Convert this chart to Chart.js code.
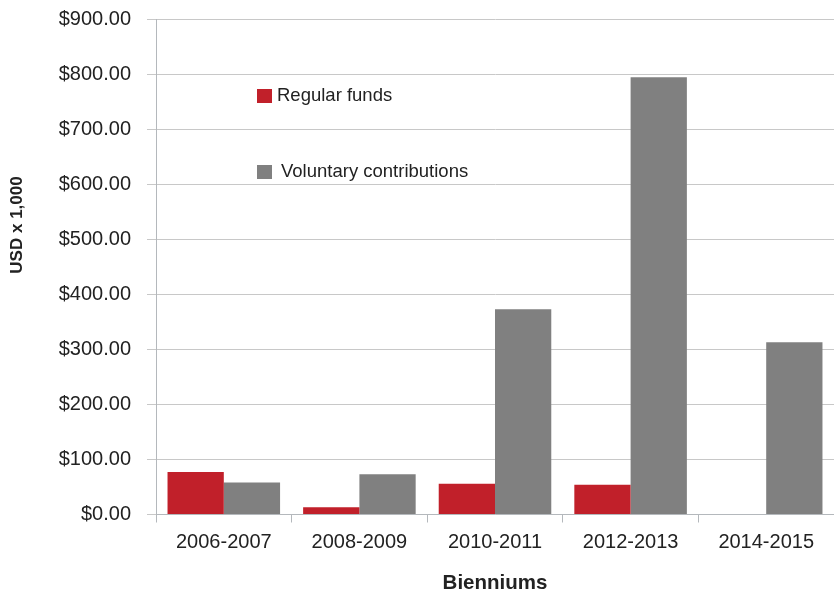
<!DOCTYPE html>
<html>
<head>
<meta charset="utf-8">
<script src="https://cdn.jsdelivr.net/npm/chart.js@4.4.1/dist/chart.umd.min.js"></script>
<style>
  html, body { margin: 0; padding: 0; background: #fff; }
  #wrap { width: 834px; height: 596px; }
</style>
</head>
<body>
<div id="wrap"><canvas id="myChart"></canvas></div>
<script>
const bienniums = ['2006-2007', '2008-2009', '2010-2011', '2012-2013', '2014-2015'];
const regularFunds = [77, 13, 56, 54, null];
const voluntaryContributions = [58, 73, 373, 794, 313];

const ctx = document.getElementById('myChart');

// legend boxes sit inside the plot, stacked with a wide gap;
// the y title is drawn here too since it sits above the axis middle
const innerLegend = {
    id: 'innerLegend',
    afterDraw(chart) {
        const c = chart.ctx;
        const area = chart.chartArea;
        const rows = [77, 153];
        c.save();
        c.font = '18.5px "Liberation Sans", Arial, sans-serif';
        c.textBaseline = 'middle';
        chart.data.datasets.forEach((ds, i) => {
            const x = area.left + 101;
            const y = area.top + rows[i];
            c.fillStyle = ds.backgroundColor;
            c.fillRect(x, y - 7, 15, 14);
            c.fillStyle = '#222';
            c.fillText(ds.label, x + 20 + i * 4, y);
        });

        c.translate(17, 225);
        c.rotate(-Math.PI / 2);
        c.textAlign = 'center';
        c.font = 'bold 17px "Liberation Sans", Arial, sans-serif';
        c.fillText('USD x 1,000', 0, 0);
        c.restore();
    }
};

new Chart(ctx, {
    type: 'bar',
    data: {
        labels: bienniums,
        datasets: [{
            label: 'Regular funds',
            data: regularFunds,
            backgroundColor: '#c1202a'
        }, {
            label: 'Voluntary contributions',
            data: voluntaryContributions,
            backgroundColor: '#808080'
        }]
    },
    options: {
        responsive: true,
        maintainAspectRatio: false,
        animation: false,
        layout: { padding: { top: 19, right: 0, left: 0, bottom: 0 } },
        plugins: {
            legend: { display: false },
            tooltip: { enabled: false }
        },
        datasets: {
            bar: { categoryPercentage: 0.83, barPercentage: 1 }
        },
        scales: {
            x: {
                grid: {
                    drawOnChartArea: false,
                    offset: true,
                    tickLength: 8,
                    color: '#b4b8bc'
                },
                border: { color: '#b4b8bc' },
                ticks: {
                    color: '#222',
                    padding: 8,
                    font: { family: '"Liberation Sans", Arial, sans-serif', size: 20 }
                },
                title: {
                    display: true,
                    text: 'Bienniums',
                    color: '#222',
                    padding: { top: 14, bottom: 0 },
                    font: { family: '"Liberation Sans", Arial, sans-serif', size: 20.5, weight: 'bold' }
                },
                afterFit(scale) { scale.height = 81.5; }
            },
            y: {
                min: 0,
                max: 900,
                ticks: {
                    stepSize: 100,
                    color: '#222',
                    padding: 16,
                    font: { family: '"Liberation Sans", Arial, sans-serif', size: 20 },
                    callback: v => '$' + v.toFixed(2)
                },
                grid: {
                    color: '#c8c8c8',
                    tickLength: 9
                },
                border: { color: '#b4b8bc' },
                afterFit(scale) {
                    scale.width = 156;
                    scale.paddingTop = 0;
                    scale.paddingBottom = 0;
                }
            }
        }
    },
    plugins: [innerLegend]
});
</script>
</body>
</html>
